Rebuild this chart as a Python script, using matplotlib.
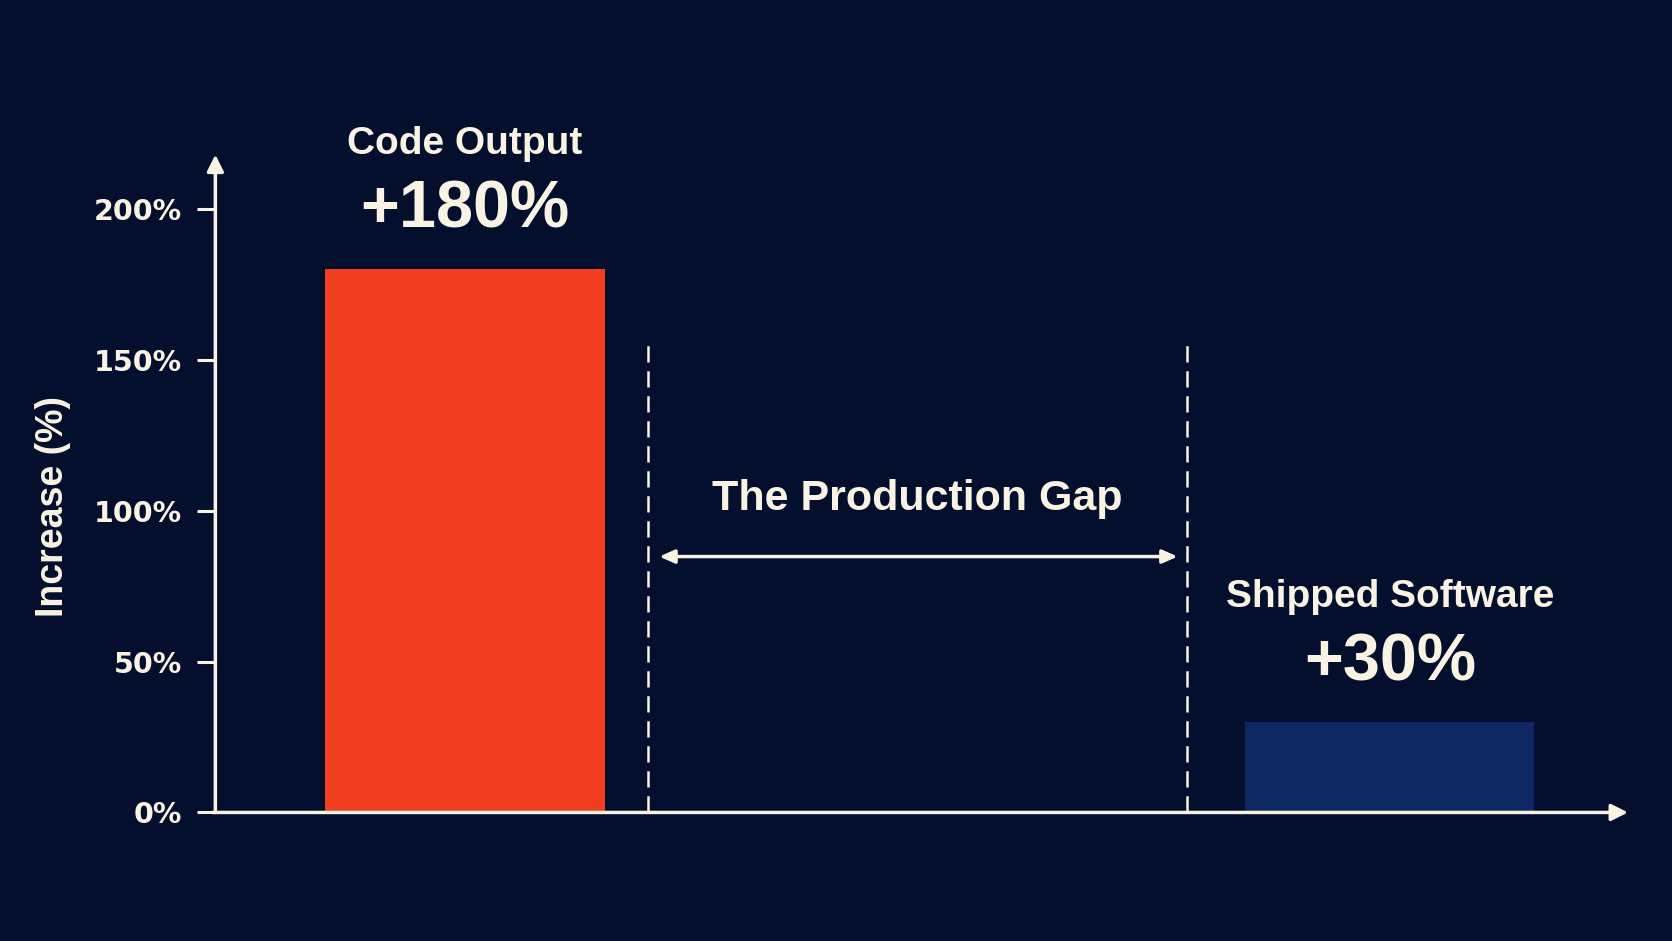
import matplotlib
matplotlib.use("Agg")
import matplotlib.pyplot as plt

# data
categories = ["Code Output", "Shipped Software"]
values = [180, 30]
value_labels = ["+180%", "+30%"]
bar_x = [0, 2]
yticks = [0, 50, 100, 150, 200]
ytick_labels = ["0%", "50%", "100%", "150%", "200%"]
gap_label = "The Production Gap"
gap_left, gap_right = 0.396, 1.561
ylabel = "Increase (%)"

BG = "#030f2c"
FG = "#f8f3e3"
BAR_COLORS = ["#f03e1e", "#0f2864"]
LABEL_FONT = ["Liberation Sans", "DejaVu Sans"]

fig = plt.figure(figsize=(16.72, 9.41), dpi=100, facecolor=BG)
ax = fig.add_axes([0.1288, 0.1366, 0.8449, 0.6991])
ax.set_facecolor(BG)
ax.set_xlim(-0.54, 2.515)
ax.set_ylim(0, 218)

ax.bar(bar_x, values, width=[0.605, 0.625], color=BAR_COLORS, zorder=2)

# labels above the bars
for x, v, cat, lab in zip(bar_x, values, categories, value_labels):
    ax.annotate(cat, (x, v), xytext=(0, 90), textcoords="offset points",
                ha="center", va="center", color=FG, fontsize=28,
                fontweight="bold", family=LABEL_FONT)
    ax.annotate(lab, (x, v), xytext=(0, 42), textcoords="offset points",
                ha="center", va="center", color=FG, fontsize=48,
                fontweight="bold", family=LABEL_FONT)

# the gap
for gx in (gap_left, gap_right):
    ax.plot([gx, gx], [0, 155.5], color=FG, lw=1.8, ls=(0, (6.5, 3.5)), zorder=3)
ax.annotate("", xy=(gap_right - 0.02, 84.8), xytext=(gap_left + 0.024, 84.8),
            arrowprops=dict(arrowstyle="<|-|>,head_length=0.9,head_width=0.4",
                            color=FG, lw=2.5, shrinkA=0, shrinkB=0))
ax.text((gap_left + gap_right) / 2, 104, gap_label, ha="center", va="center",
        color=FG, fontsize=31, fontweight="bold", family=LABEL_FONT)

# axes drawn as arrows
for s in ax.spines.values():
    s.set_visible(False)
ax.annotate("", xy=(0, 1), xytext=(0, 0), xycoords="axes fraction",
            arrowprops=dict(arrowstyle="-|>,head_length=1.0,head_width=0.5",
                            color=FG, lw=2.5, shrinkA=0, shrinkB=0))
ax.annotate("", xy=(1, 0), xytext=(-0.002, 0), xycoords="axes fraction",
            arrowprops=dict(arrowstyle="-|>,head_length=1.0,head_width=0.5",
                            color=FG, lw=2.5, shrinkA=0, shrinkB=0))

ax.set_xticks([])
ax.set_yticks(yticks)
ax.set_yticklabels(ytick_labels, fontsize=20.5, fontweight="bold",
                   family="DejaVu Sans", color=FG)
ax.tick_params(axis="y", length=13, width=2.2, color=FG, pad=11)

ax.set_ylabel(ylabel, fontsize=27, fontweight="bold", color=FG,
              family=LABEL_FONT)
ax.yaxis.set_label_coords(-0.102, 0.465)

fig.savefig("out.png", dpi=100, facecolor=BG)
